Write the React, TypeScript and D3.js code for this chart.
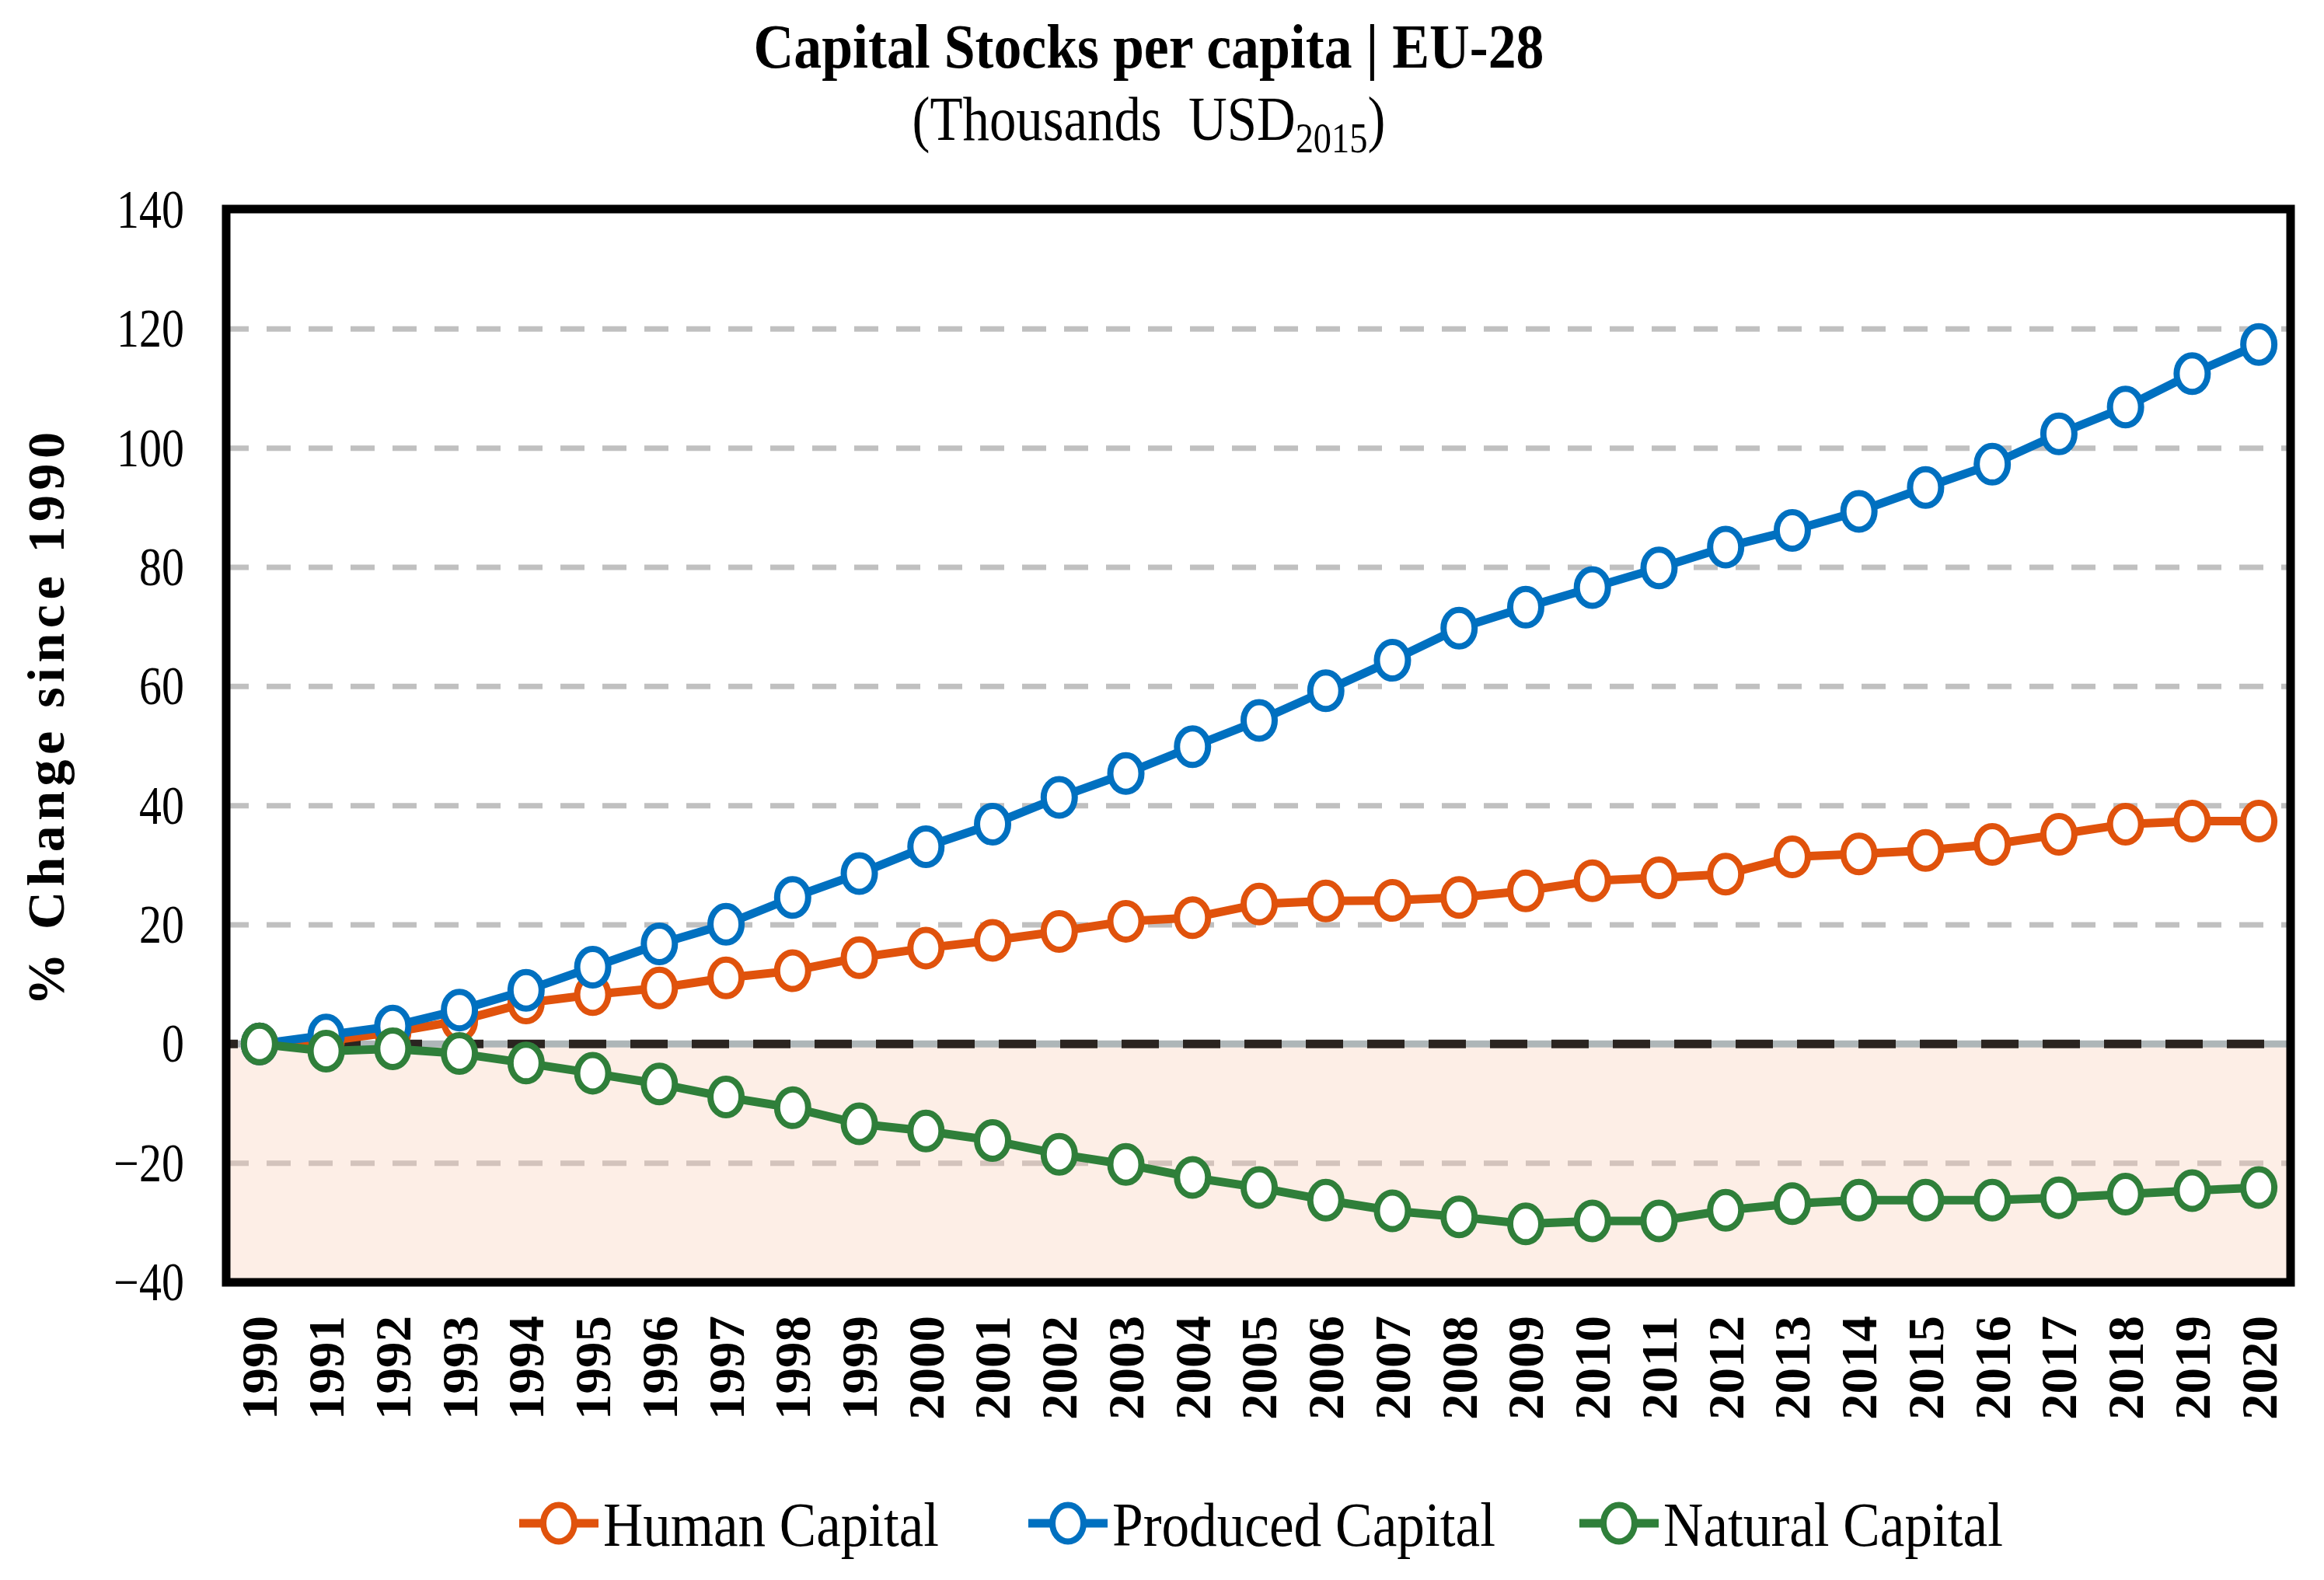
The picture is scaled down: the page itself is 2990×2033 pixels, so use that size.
import React, { useEffect, useRef } from 'react';
import * as d3 from 'd3';

const years = [
  '1990', '1991', '1992', '1993', '1994', '1995', '1996', '1997', '1998', '1999',
  '2000', '2001', '2002', '2003', '2004', '2005', '2006', '2007', '2008', '2009',
  '2010', '2011', '2012', '2013', '2014', '2015', '2016', '2017', '2018', '2019', '2020',
];

// % change since 1990
const humanCapital = [
  0, 0.5, 2.0, 3.9, 6.9, 8.3, 9.4, 11.1, 12.3, 14.5,
  16.1, 17.4, 18.9, 20.6, 21.2, 23.5, 24.0, 24.1, 24.6, 25.7,
  27.4, 27.9, 28.5, 31.4, 31.9, 32.5, 33.5, 35.2, 36.9, 37.4, 37.4,
];
const producedCapital = [
  0, 1.5, 3.0, 5.7, 9.0, 12.9, 16.8, 20.1, 24.6, 28.6,
  33.1, 36.9, 41.4, 45.4, 49.9, 54.3, 59.3, 64.4, 69.8, 73.3,
  76.6, 79.9, 83.4, 86.2, 89.4, 93.4, 97.3, 102.4, 106.9, 112.5, 117.4,
];
const naturalCapital = [
  0, -1.2, -0.8, -1.6, -3.2, -4.9, -6.7, -8.9, -10.7, -13.4,
  -14.6, -16.2, -18.5, -20.2, -22.4, -24.1, -26.2, -28.0, -29.0, -30.2,
  -29.7, -29.7, -27.9, -26.8, -26.2, -26.2, -26.2, -25.8, -25.2, -24.6, -24.1,
];

const seriesNames = ['Human Capital', 'Produced Capital', 'Natural Capital'];
const seriesValues = [humanCapital, producedCapital, naturalCapital];
const seriesColors = ['#E0520C', '#0070C0', '#2F7F3A'];

const yTicks = [-40, -20, 0, 20, 40, 60, 80, 100, 120, 140];

const W = 2990;
const H = 2033;
const FONT = '"Liberation Serif", "Times New Roman", serif';

const App: React.FC = () => {
  const svgRef = useRef<SVGSVGElement>(null);

  useEffect(() => {
    if (!svgRef.current) return;
    const svg = d3.select(svgRef.current);
    svg.selectAll('*').remove();

    const left = 291;
    const right = 2947;
    const top = 270;
    const bottom = 1650;

    const x = d3.scalePoint<string>().domain(years).range([left, right + 2]).padding(0.5);
    const y = d3.scaleLinear().domain([-40, 140]).range([bottom, top]);

    // shaded negative zone
    svg.append('rect')
      .attr('x', left).attr('y', y(0))
      .attr('width', right - left).attr('height', y(-40) - y(0))
      .attr('fill', '#FDEEE6');

    // dashed grid
    svg.append('g')
      .selectAll('line')
      .data(yTicks.filter((t) => t !== 0 && t !== -40 && t !== 140))
      .join('line')
      .attr('x1', left + 5).attr('x2', right - 5)
      .attr('y1', (d) => y(d)).attr('y2', (d) => y(d))
      .attr('stroke', (d) => (d < 0 ? '#D3C3BC' : '#C0C0C0'))
      .attr('stroke-width', 7)
      .attr('stroke-dasharray', '31 23')
      .attr('stroke-dashoffset', 7);

    // zero line: grey under black dashes
    svg.append('line')
      .attr('x1', left + 5).attr('x2', right - 5)
      .attr('y1', y(0)).attr('y2', y(0))
      .attr('stroke', '#AEB6B8').attr('stroke-width', 9);
    svg.append('line')
      .attr('x1', left + 5).attr('x2', right - 5)
      .attr('y1', y(0)).attr('y2', y(0))
      .attr('stroke', '#2A2420').attr('stroke-width', 11)
      .attr('stroke-dasharray', '48 31')
      .attr('stroke-dashoffset', 38);

    const line = d3.line<number>()
      .x((_, i) => x(years[i]) as number)
      .y((d) => y(d));

    seriesValues.forEach((vals, s) => {
      const g = svg.append('g');
      g.append('path')
        .attr('d', line(vals))
        .attr('fill', 'none')
        .attr('stroke', seriesColors[s])
        .attr('stroke-width', 11)
        .attr('stroke-linejoin', 'round');
      g.selectAll('ellipse')
        .data(vals)
        .join('ellipse')
        .attr('cx', (_, i) => x(years[i]) as number)
        .attr('cy', (d) => y(d))
        .attr('rx', 20).attr('ry', 23.5)
        .attr('fill', '#fff')
        .attr('stroke', seriesColors[s])
        .attr('stroke-width', 8);
    });

    // plot frame
    svg.append('rect')
      .attr('x', left).attr('y', top - 1)
      .attr('width', right - left).attr('height', bottom - top + 1)
      .attr('fill', 'none')
      .attr('stroke', '#000')
      .attr('stroke-width', 11);

    // y tick labels
    svg.append('g')
      .selectAll('text')
      .data(yTicks)
      .join('text')
      .attr('transform', (d) => `translate(237,${y(d) + 23}) scale(0.84,1)`)
      .attr('text-anchor', 'end')
      .attr('font-family', FONT)
      .attr('font-size', 69)
      .attr('fill', '#000')
      .text((d) => (d < 0 ? `\u2212${Math.abs(d)}` : `${d}`));

    // x tick labels (rotated)
    svg.append('g')
      .selectAll('text')
      .data(years)
      .join('text')
      .attr('transform', (d) => `translate(${x(d)},1693) rotate(-90)`)
      .attr('text-anchor', 'end')
      .attr('dy', '0.34em')
      .attr('font-family', FONT)
      .attr('font-weight', 'bold')
      .attr('font-size', 66)
      .attr('textLength', 134)
      .attr('lengthAdjust', 'spacingAndGlyphs')
      .text((d) => d);

    // y axis title
    svg.append('text')
      .attr('transform', 'translate(82,925) rotate(-90)')
      .attr('text-anchor', 'middle')
      .attr('font-family', FONT)
      .attr('font-weight', 'bold')
      .attr('font-size', 68)
      .attr('textLength', 738)
      .attr('lengthAdjust', 'spacing')
      .text('% Change since 1990');

    // titles
    svg.append('text')
      .attr('x', 1478).attr('y', 87)
      .attr('text-anchor', 'middle')
      .attr('font-family', FONT)
      .attr('font-weight', 'bold')
      .attr('font-size', 80)
      .attr('textLength', 1017)
      .attr('lengthAdjust', 'spacingAndGlyphs')
      .text('Capital Stocks per capita | EU-28');

    const sub = svg.append('text')
      .attr('transform', 'translate(1478,180) scale(0.86,1)')
      .attr('text-anchor', 'middle')
      .attr('font-family', FONT)
      .attr('font-size', 80);
    sub.append('tspan').text('(Thousands\u00A0\u00A0USD');
    sub.append('tspan').attr('font-size', 54).attr('dy', 16).text('2015');
    sub.append('tspan').attr('dy', -16).text(')');

    // legend
    const legendX = [668, 1323, 2032];
    const legendW = [432, 493, 437];
    const ly = 1960;
    seriesNames.forEach((name, s) => {
      const g = svg.append('g').attr('transform', `translate(${legendX[s]},${ly})`);
      g.append('line')
        .attr('x1', 0).attr('x2', 102)
        .attr('y1', 0).attr('y2', 0)
        .attr('stroke', seriesColors[s])
        .attr('stroke-width', 11);
      g.append('ellipse')
        .attr('cx', 51).attr('cy', 0)
        .attr('rx', 20).attr('ry', 23.5)
        .attr('fill', '#fff')
        .attr('stroke', seriesColors[s])
        .attr('stroke-width', 8);
      g.append('text')
        .attr('x', 108).attr('y', 29)
        .attr('font-family', FONT)
        .attr('font-size', 80)
        .attr('textLength', legendW[s])
        .attr('lengthAdjust', 'spacingAndGlyphs')
        .text(name);
    });
  }, []);

  return (
    <svg
      ref={svgRef}
      width={W}
      height={H}
      viewBox={`0 0 ${W} ${H}`}
      style={{ position: 'absolute', left: 0, top: 0, background: '#fff' }}
    />
  );
};

export default App;
